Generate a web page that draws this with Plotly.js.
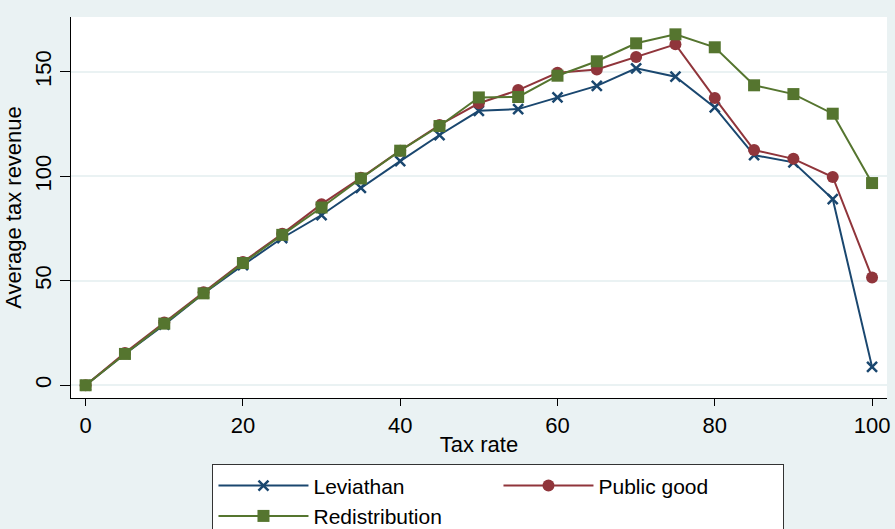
<!DOCTYPE html>
<html>
<head>
<meta charset="utf-8">
<script src="https://cdn.plot.ly/plotly-3.0.1.min.js"></script>
<style>
  html, body { margin: 0; padding: 0; background: #EAF2F3; }
  #chart { width: 895px; height: 529px; }
</style>
</head>
<body>
<div id="chart"></div>
<script>
// tax rates on the x axis
var taxRate = [0, 5, 10, 15, 20, 25, 30, 35, 40, 45, 50, 55, 60, 65, 70, 75, 80, 85, 90, 95, 100];

// average tax revenue per regime
var leviathan = [0, 15, 29, 44, 57.5, 70.5, 81.5, 94.5, 107.3, 119.8, 131.4, 132.2, 137.8, 143.3, 151.7, 147.7, 133, 110.2, 106.7, 89.1, 8.8];
var publicGood = [0, 15.5, 30, 44.5, 59, 72.5, 86.7, 99.3, 112.3, 124.6, 135, 141.3, 149.6, 151.2, 157.2, 163.2, 137.5, 112.6, 108.4, 99.7, 51.6];
var redistribution = [0, 15, 29.5, 44, 58.5, 72, 85.1, 99, 112.3, 124.1, 137.8, 138, 148.2, 155.1, 163.7, 168, 161.8, 143.6, 139.4, 130, 96.8];

var xTicks = [0, 20, 40, 60, 80, 100];
var yTicks = [0, 50, 100, 150];

var bg = '#EAF2F3';
var navy = '#1A476F', maroon = '#90353B', green = '#55752F';
var font = 'Arial, "Liberation Sans", sans-serif';

var data = [
  {x: taxRate, y: leviathan, name: 'Leviathan', type: 'scatter', mode: 'lines+markers',
   line: {color: navy, width: 2},
   marker: {symbol: 'x-thin', size: 10, color: navy, line: {color: navy, width: 2.5}}},
  {x: taxRate, y: publicGood, name: 'Public good', type: 'scatter', mode: 'lines+markers',
   line: {color: maroon, width: 2},
   marker: {symbol: 'circle', size: 12, color: maroon}},
  {x: taxRate, y: redistribution, name: 'Redistribution', type: 'scatter', mode: 'lines+markers',
   line: {color: green, width: 2},
   marker: {symbol: 'square', size: 12, color: green}}
];

var layout = {
  width: 895, height: 529,
  paper_bgcolor: bg, plot_bgcolor: '#FFFFFF',
  font: {family: font, size: 22, color: '#000'},
  margin: {l: 71, r: 8, t: 17, b: 131, autoexpand: false},
  showlegend: true,
  xaxis: {
    range: [-1.86, 101.9], tickvals: xTicks, ticks: 'outside', ticklen: 7, tickwidth: 1,
    tickcolor: '#000', showline: true, linecolor: '#000', linewidth: 1.3,
    showgrid: false, zeroline: false, automargin: false,
    title: {text: 'Tax rate', font: {size: 22}, standoff: 0}
  },
  yaxis: {
    range: [-6.1, 176.3], tickvals: yTicks, ticks: 'outside', ticklen: 10, tickwidth: 1,
    tickcolor: '#000', tickangle: -90, showline: true, linecolor: '#000', linewidth: 1.3,
    showgrid: true, gridcolor: bg, gridwidth: 2, zeroline: false, automargin: false,
    title: {text: 'Average tax revenue', font: {size: 22}, standoff: 3}
  },
  legend: {
    orientation: 'h', xref: 'container', yref: 'container',
    x: 0.2374, y: 0.122, xanchor: 'left', yanchor: 'top',
    bgcolor: '#FFFFFF', bordercolor: '#333', borderwidth: 1,
    font: {size: 21}, itemwidth: 90, entrywidth: 180, traceorder: 'normal'
  }
};

Plotly.newPlot('chart', data, layout, {displayModeBar: false, staticPlot: true});
</script>
</body>
</html>
